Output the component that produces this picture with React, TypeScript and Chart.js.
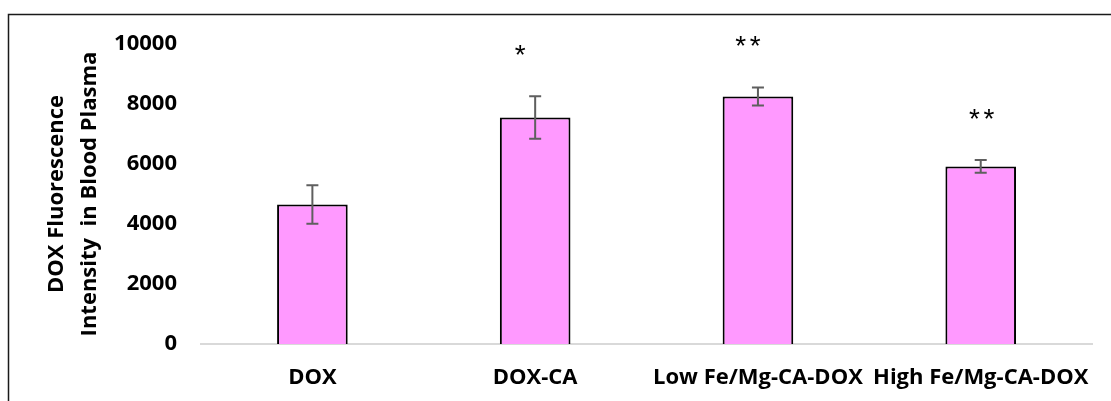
import { useEffect, useRef } from 'react';
import { Chart, registerables } from 'chart.js';

Chart.register(...registerables);

// Plasma DOX fluorescence per formulation (mean ± SD)
const categories = ['DOX', 'DOX-CA', 'Low Fe/Mg-CA-DOX', 'High Fe/Mg-CA-DOX'];
const intensity = [4650, 7550, 8250, 5920];
const errors = [645, 705, 300, 210];
const significance = ['', '*', '**', '**'];
// horizontal nudge of each significance mark relative to its bar
const significanceShift = [0, -15, -10, 1];

const yMin = 0;
const yMax = 10000;
const yStep = 2000;
const yTitle = ['DOX Fluorescence', 'Intensity  in Blood Plasma'];

const FONT = '"Open Sans", "DejaVu Sans", sans-serif';

const errorBarPlugin = {
  id: 'errorBars',
  afterDatasetsDraw(chart: any) {
    const { ctx } = chart;
    const y = chart.scales.y;
    const meta = chart.getDatasetMeta(0);
    ctx.save();
    meta.data.forEach((bar: any, i: number) => {
      const x = bar.x;
      const top = y.getPixelForValue(intensity[i] + errors[i]);
      const bot = y.getPixelForValue(intensity[i] - errors[i]);
      ctx.strokeStyle = '#5f5f5f';
      ctx.lineWidth = 2;
      ctx.beginPath();
      ctx.moveTo(x, top);
      ctx.lineTo(x, bot);
      ctx.moveTo(x - 6, top);
      ctx.lineTo(x + 6, top);
      ctx.moveTo(x - 6, bot);
      ctx.lineTo(x + 6, bot);
      ctx.stroke();

      const mark = significance[i];
      if (mark) {
        ctx.fillStyle = '#000';
        ctx.font = '28px "Liberation Sans", Arial, sans-serif';
        ctx.textAlign = 'center';
        ctx.textBaseline = 'middle';
        const spacing = 14.5;
        const cx = x + significanceShift[i];
        const cy = top - 40;
        const n = mark.length;
        for (let k = 0; k < n; k++) {
          const px = cx + (k - (n - 1) / 2) * spacing;
          ctx.fillText(mark[k], px, cy);
        }
      }
    });
    ctx.restore();
  },
};

const framePlugin = {
  id: 'frame',
  beforeDraw(chart: any) {
    const { ctx, width, height } = chart;
    ctx.save();
    ctx.fillStyle = '#fff';
    ctx.fillRect(0, 0, width, height);
    ctx.restore();
  },
  afterDraw(chart: any) {
    const { ctx, width, height } = chart;
    ctx.save();
    ctx.strokeStyle = '#1a1a1a';
    ctx.lineWidth = 1.5;
    ctx.beginPath();
    ctx.moveTo(8.5, height + 2);
    ctx.lineTo(8.5, 14.5);
    ctx.lineTo(width + 2, 14.5);
    ctx.stroke();
    ctx.restore();
  },
};

export default function App() {
  const ref = useRef<HTMLCanvasElement>(null);

  useEffect(() => {
    document.body.style.margin = '0';
    const canvas = ref.current;
    if (!canvas) return;
    const chart = new Chart(canvas, {
      type: 'bar',
      data: {
        labels: categories,
        datasets: [
          {
            data: intensity,
            backgroundColor: '#ff99ff',
            borderColor: '#000',
            borderWidth: 2,
            categoryPercentage: 1,
            barPercentage: 0.317,
          },
        ],
      },
      options: {
        animation: false,
        responsive: false,
        maintainAspectRatio: false,
        layout: { padding: { top: 44, right: 13, bottom: 0, left: 0 } },
        plugins: {
          legend: { display: false },
          tooltip: { enabled: false },
        },
        scales: {
          x: {
            grid: { display: false, drawTicks: false },
            border: { display: true, color: '#d9d9d9', width: 2 },
            ticks: {
              color: '#000',
              padding: 21,
              maxRotation: 0,
              autoSkip: false,
              font: { family: FONT, size: 22, weight: 'bold' },
            },
            afterFit: (scale: any) => {
              scale.height = 57;
            },
          },
          y: {
            min: yMin,
            max: yMax,
            grid: { display: false, drawTicks: false },
            border: { display: false },
            ticks: {
              stepSize: yStep,
              color: '#000',
              padding: 24,
              font: { family: FONT, size: 22, weight: 'bold' },
              callback: (value: any) => String(value),
            },
            title: {
              display: true,
              text: yTitle,
              color: '#000',
              padding: { top: 40, bottom: 0 },
              font: { family: FONT, size: 22, weight: 'bold', lineHeight: 1.5 },
            },
            afterFit: (scale: any) => {
              scale.width = 201;
            },
          },
        },
      },
      plugins: [framePlugin, errorBarPlugin],
    });
    return () => chart.destroy();
  }, []);

  return (
    <div style={{ position: 'absolute', left: 0, top: 0, width: 1111, height: 401 }}>
      <canvas ref={ref} width={1111} height={401} style={{ display: 'block' }} />
    </div>
  );
}
